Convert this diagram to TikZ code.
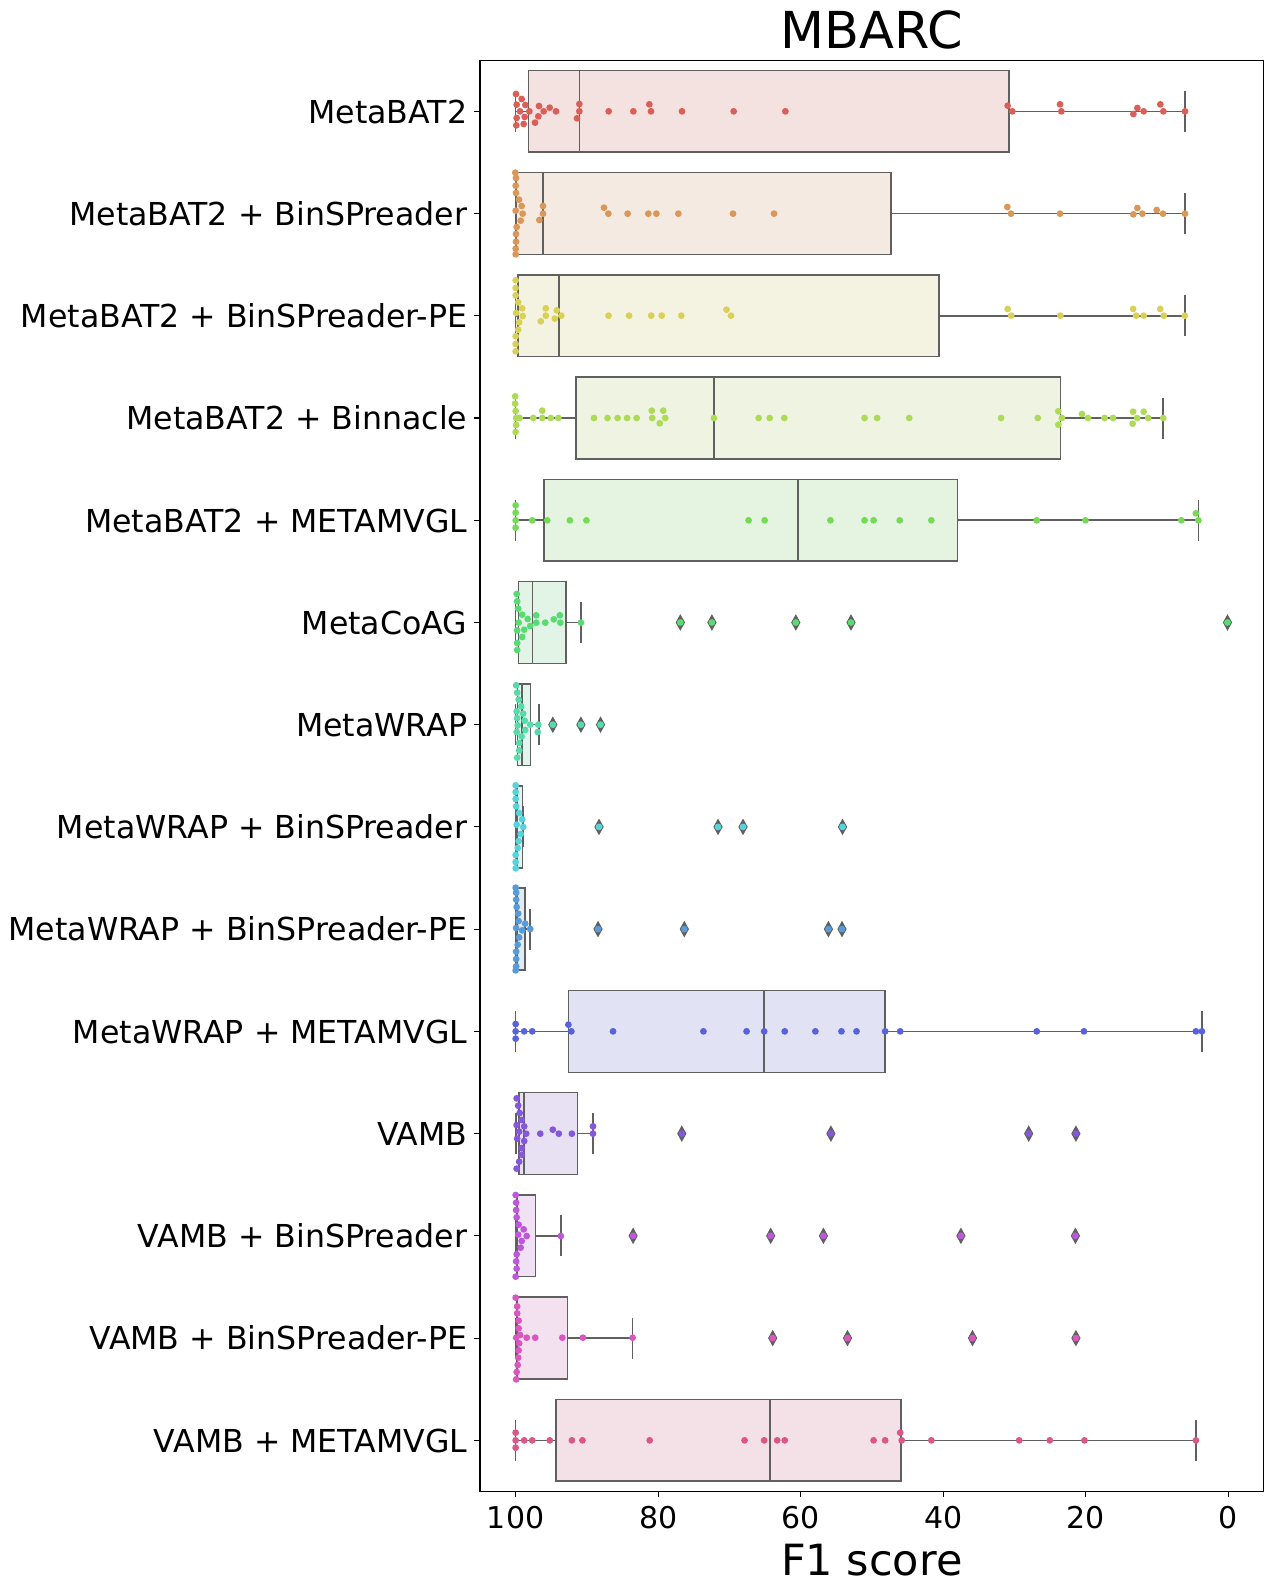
\documentclass[tikz,border=0pt]{standalone}
\usepackage{fontspec}
\setmainfont{DejaVu Sans}
\definecolor{c1}{RGB}{219,95,87}
\definecolor{c2}{RGB}{219,151,87}
\definecolor{c3}{RGB}{219,208,87}
\definecolor{c4}{RGB}{173,219,87}
\definecolor{c5}{RGB}{117,219,87}
\definecolor{c6}{RGB}{87,219,114}
\definecolor{c7}{RGB}{87,219,170}
\definecolor{c8}{RGB}{87,211,219}
\definecolor{c9}{RGB}{87,155,219}
\definecolor{c10}{RGB}{87,98,219}
\definecolor{c11}{RGB}{133,87,219}
\definecolor{c12}{RGB}{189,87,219}
\definecolor{c13}{RGB}{219,87,192}
\definecolor{c14}{RGB}{219,87,136}
\definecolor{gsix}{RGB}{153,153,153}
\definecolor{edgegray}{RGB}{96,96,96}
\tikzset{
  boxline/.style={draw=edgegray, line width=1.1pt},
  wline/.style={draw=edgegray, line width=1.1pt},
  ylab/.style={anchor=base east, inner sep=0pt, font=\fontsize{23.7pt}{28pt}\selectfont},
  xlab/.style={anchor=base, inner sep=0pt, font=\fontsize{22.5pt}{27pt}\selectfont},
  tickline/.style={draw=black, line width=0.8pt},
}
\newcommand\mydots[6]{\foreach \a/\b in {#6}{\fill[#5] ({#1+\a/#3},{#2+\b/#4}) circle[radius=2.55pt];}}
\newcommand\myflier[3]{%
  \filldraw[fill=edgegray,draw=edgegray,line width=0.8pt] ({#1},{#2-7.2}) -- ({#1+4},{#2}) -- ({#1},{#2+7.2}) -- ({#1-4},{#2}) -- cycle;
  \fill[#3] ({#1},{#2}) circle[radius=2.55pt];}
\begin{document}
\begin{tikzpicture}[x=0.75pt,y=-0.75pt]
\useasboundingbox (0,0) rectangle (1265,1583);
\fill[white] (0,0) rectangle (1265,1583);

% boxes and whiskers
\foreach \c/\ql/\qr/\md/\wl/\wr/\col in {
 111.3/528.3/1009/579.3/515.6/1185/c1,
 213.5/516.2/891/543/516.2/1185/c2,
 315.8/518.2/938.8/558.8/515.6/1184.8/c3,
 418.0/575.9/1060.3/714/515.6/1163.2/c4,
 520.2/543.8/957.4/797.8/515.6/1198.4/c5,
 622.5/518.7/565.9/532.7/515.6/580.9/c6,
 724.7/517.7/530.7/522.2/515.6/539.2/c7,
 826.9/516.2/522.7/517/515.6/523.7/c8,
 929.1/516.2/525.2/517/515.6/530.2/c9,
 1031.4/568.4/885.1/764.1/515.6/1201.9/c10,
 1133.6/519.2/577.4/524.2/516.2/593/c11,
 1235.8/517.2/535.7/517.2/515.6/560.8/c12,
 1338.1/517.2/567.4/517.2/515.6/632.6/c13,
 1440.3/555.8/901.2/770.2/515.6/1195.9/c14}{
  \draw[wline] ({\wl},{\c}) -- ({\ql},{\c});
  \draw[wline] ({\qr},{\c}) -- ({\wr},{\c});
  \draw[wline] ({\wl},{\c-20.5}) -- ({\wl},{\c+20.5});
  \draw[wline] ({\wr},{\c-20.5}) -- ({\wr},{\c+20.5});
  \filldraw[boxline, fill=\col!75!gsix!20!white] ({\ql},{\c-40.9}) rectangle ({\qr},{\c+40.9});
  \draw[boxline] ({\md},{\c-40.9}) -- ({\md},{\c+40.9});
}

% fliers
\foreach \x in {680.3,711.9,795.8,851,1227.5}{\myflier{\x}{622.5}{c6}}
\foreach \x in {552.8,580.9,600.5}{\myflier{\x}{724.7}{c7}}
\foreach \x in {599,718,743,842.5}{\myflier{\x}{826.9}{c8}}
\foreach \x in {598,684.3,828.4,842}{\myflier{\x}{929.1}{c9}}
\foreach \x in {681.8,830.9,1028.7,1075.9}{\myflier{\x}{1133.6}{c11}}
\foreach \x in {633.1,770.7,823.4,960.9,1075.4}{\myflier{\x}{1235.8}{c12}}
\foreach \x in {772.7,847.5,972.5,1075.9}{\myflier{\x}{1338.1}{c13}}

% swarm dots
\mydots{470}{40}{3}{3}{c1}{138/162,155/177,140/194,166/195,150/214,178/214,140/234,164/231,139/256,161/252,207/198,205/229,195/248,221/214,239/203,258/214,328/192,328/214,321/235,416/214,490/214,538/193,543/214,636/214,791/214,946/214}
\mydots{880}{40}{3}{3}{c1}{383/197,397/214,540/193,544/214,772/204,760/222,791/214,841/193,850/214,915/214}
\mydots{470}{40}{3}{3}{c2}{136/398,138/414,137/437,138/459,147/479,155/498,137/512,158/521,152/542,140/561,138/582,138/605,137/626,137/643,219/498,219/521,208/540,402/503,415/521,473/521,535/521,559/521,625/521,789/521,912/521}
\mydots{880}{40}{3}{3}{c2}{382/501,393/521,540/521,772/504,760/523,787/521,830/510,849/521,915/521}
\mydots{478}{263}{1.992}{3}{c3}{75/52,75/75,75/97,80/118,88/136,76/150,89/159,82/178,80/200,75/220,75/243,75/265,135/136,135/158,125/175,157/142,166/158,153/167,260/158,301/158,345/158,366/158,405/158,495/140,504/158,1055/138,1062/158,1160/158,1305/138,1311/158,1326/158,1359/138,1366/158,1408/158}
\mydots{478}{263}{1.992}{3}{c4}{74/400,74/422,75/444,76/465,76/486,75/507,83/465,110/465,128/443,128/465,145/465,160/465,231/465,258/465,278/465,297/465,316/465,346/443,347/465,369/443,373/465,362/481,470/465,559/465,581/465,610/465,770/465,795/465,859/465,1042/465,1115/465,1156/445,1163/465,1156/485,1203/453,1215/465,1248/465,1265/465,1305/446,1326/446,1313/465,1335/465,1304/482,1365/465}
\mydots{478}{468}{1.992}{3}{c5}{75/112,75/134,75/157,75/179,108/157,138/157,183/157,216/157,539/157,571/157,702/157,770/157,788/157,840/157,903/157,1113/157,1210/157,1401/157,1430/136,1435/157}
\mydots{478}{468}{1.992}{3}{c6}{77/378,78/400,80/422,88/440,81/464,78/487,88/507,78/525,78/546,99/453,92/485,104/474,116/442,116/464,134/464,151/454,163/442,164/464,205/464}
\mydots{478}{672}{1.992}{3}{c7}{76/40,78/62,81/83,86/103,77/118,90/125,78/138,93/146,79/160,104/158,77/180,94/174,87/193,82/213,82/235,78/257,120/158,119/180}
\mydots{478}{672}{1.992}{3}{c8}{75/340,75/360,75/381,76/403,82/423,88/442,77/458,90/465,85/486,81/507,79/528,75/549,75/570,75/589}
\mydots{478}{877}{1.992}{3}{c9}{75/32,76/47,76/68,77/90,80/110,81/132,94/140,76/153,88/160,104/156,82/181,79/203,76/224,76/246,76/268,75/280}
\mydots{478}{877}{1.992}{3}{c10}{75/441,75/463,75/485,92/463,108/463,180/443,186/463,269/463,449/463,535/463,570/463,611/463,672/463,724/463,754/463,811/463,841/463,1113/463,1207/463,1430/463,1442/463}
\mydots{478}{1081}{1.992}{3}{c11}{77/52,80/74,83/96,87/117,77/132,92/136,82/152,96/158,78/173,92/180,87/201,87/221,82/242,77/263,124/158,149/146,161/158,187/158,229/136,229/158}
\mydots{478}{1081}{1.992}{3}{c12}{75/342,76/365,76/387,77/409,81/431,91/445,80/461,97/465,87/480,85/500,77/520,76/541,77/563,75/587,165/465}
\mydots{478}{1285}{1.992}{3}{c13}{75/38,78/64,78/85,81/107,81/130,84/150,76/158,97/158,114/158,82/175,81/196,80/218,79/240,77/261,76/283,168/158,209/158,308/158}
\mydots{478}{1285}{1.992}{3}{c14}{75/443,75/466,75/488,92/466,108/466,143/466,187/466,208/466,342/466,531/466,570/466,596/466,611/466,788/466,811/466,841/443,844/466,903/466,1078/466,1139/466,1208/466,1430/466}

% frame
\draw[black, line width=0.8pt] (480,60.2) rectangle (1263.6,1491.4);

% y ticks and labels
\foreach \c/\lab [count=\i] in {
 111.3/MetaBAT2,
 213.5/MetaBAT2 + BinSPreader,
 315.8/MetaBAT2 + BinSPreader-PE,
 418.0/MetaBAT2 + Binnacle,
 520.2/MetaBAT2 + METAMVGL,
 622.5/MetaCoAG,
 724.7/MetaWRAP,
 826.9/MetaWRAP + BinSPreader,
 929.1/MetaWRAP + BinSPreader-PE,
 1031.4/MetaWRAP + METAMVGL,
 1133.6/VAMB,
 1235.8/VAMB + BinSPreader,
 1338.1/VAMB + BinSPreader-PE,
 1440.3/VAMB + METAMVGL}{
  \draw[tickline] (474,{\c}) -- (480,{\c});
  \node[ylab] (ylab\i) at (467.5,{\c+11.8}) {\lab};
}

% x ticks and labels
\foreach \v [count=\i] in {100,80,60,40,20,0}{
  \draw[tickline] ({515.6+(100-\v)*7.125},1491.4) -- ({515.6+(100-\v)*7.125},1496.6);
  \node[xlab] (xt\i) at ({515.6+(100-\v)*7.125},1528.7) {\v};
}

\node[anchor=base, inner sep=0pt, font=\fontsize{32.25pt}{38pt}\selectfont] (xlabel) at (871.8,1575) {F1 score};
\node[anchor=base, inner sep=0pt, font=\fontsize{38.2pt}{45pt}\selectfont] (title) at (871.8,48.5) {MBARC};
\end{tikzpicture}
\end{document}
